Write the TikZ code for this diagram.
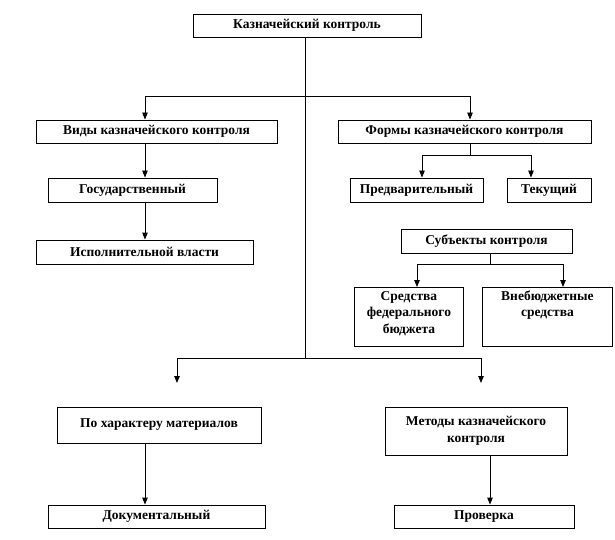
\documentclass[tikz,border=0pt]{standalone}
\usepackage{fontspec}
\setmainfont{Liberation Serif}
\usetikzlibrary{arrows.meta}
\begin{document}
\begin{tikzpicture}[x=1pt,y=-1pt,
  box/.style={draw, line width=0.9pt, inner sep=0pt, align=center,
    font=\bfseries\fontsize{13.5}{16.5}\selectfont},
  ln/.style={line width=0.9pt},
  arr/.style={ln, -{Triangle[width=5.5pt,length=7pt]}}]
\useasboundingbox (0,0) rectangle (615,540);
% nodes
\node[box, minimum width=228pt, minimum height=23pt] (top) at (307,25.5) {Казначейский контроль};
\node[box, minimum width=241pt, minimum height=23pt] (vid) at (156.5,131.5) {Виды казначейского контроля};
\node[box, minimum width=253pt, minimum height=23pt] (form) at (464.5,131.5) {Формы казначейского контроля};
\node[box, minimum width=169pt, minimum height=24pt] (gos) at (132.5,190) {Государственный};
\node[box, minimum width=217pt, minimum height=24pt] (isp) at (144.5,252) {Исполнительной власти};
\node[box, minimum width=133pt, minimum height=24pt] (pred) at (416.5,190) {Предварительный};
\node[box, minimum width=84pt, minimum height=24pt] (tek) at (549,190) {Текущий};
\node[box, minimum width=171pt, minimum height=24pt] (subj) at (486.5,241) {Субъекты контроля};
\node[box, text width=109pt, text height=13pt, text depth=46pt, anchor=north west] (sred) at (354,287) {Средства\\федерального\\бюджета};
\node[box, text width=130pt, text height=13pt, text depth=46pt, anchor=north west] (vneb) at (482,287) {Внебюджетные\\средства};
\node[box, minimum width=204pt, minimum height=36pt] (poh) at (159,425) {По характеру материалов};
\node[box, minimum width=217pt, minimum height=23pt] (doc) at (156.5,516.5) {Документальный};
\node[box, minimum width=182pt, minimum height=48pt] (met) at (476,431) {Методы казначейского\\контроля};
\node[box, minimum width=180pt, minimum height=23pt] (prov) at (484,516.5) {Проверка};
% junction coordinates
\coordinate (j1) at (305,96);
\coordinate (ja) at (145,96);
\coordinate (jb) at (470,96);
\coordinate (j3) at (305,358);
\coordinate (jc) at (177,358);
\coordinate (jd) at (481,358);
\coordinate (ec) at (177,383);
\coordinate (ed) at (481,383);
\coordinate (f1) at (470,155);
\coordinate (fa) at (422,155);
\coordinate (fb) at (531,155);
\coordinate (s1) at (490,264);
\coordinate (sa) at (417,264);
\coordinate (sb) at (563,264);
% connectors
\draw[ln] (top.south -| j1) -- (j3);
\draw[ln] (ja) -- (jb);
\draw[arr] (ja) -- (ja |- vid.north);
\draw[arr] (jb) -- (jb |- form.north);
\draw[arr] (vid.south -| ja) -- (gos.north -| ja);
\draw[arr] (gos.south -| ja) -- (isp.north -| ja);
\draw[ln] (form.south -| f1) -- (f1);
\draw[ln] (fa) -- (fb);
\draw[arr] (fa) -- (fa |- pred.north);
\draw[arr] (fb) -- (fb |- tek.north);
\draw[ln] (subj.south -| s1) -- (s1);
\draw[ln] (sa) -- (sb);
\draw[arr] (sa) -- (sa |- sred.north);
\draw[arr] (sb) -- (sb |- vneb.north);
\draw[ln] (jc) -- (jd);
\draw[arr] (jc) -- (ec);
\draw[arr] (jd) -- (ed);
\draw[arr] (poh.south -| ja) -- (doc.north -| ja);
\draw[arr] (met.south -| s1) -- (prov.north -| s1);
\end{tikzpicture}
\end{document}
